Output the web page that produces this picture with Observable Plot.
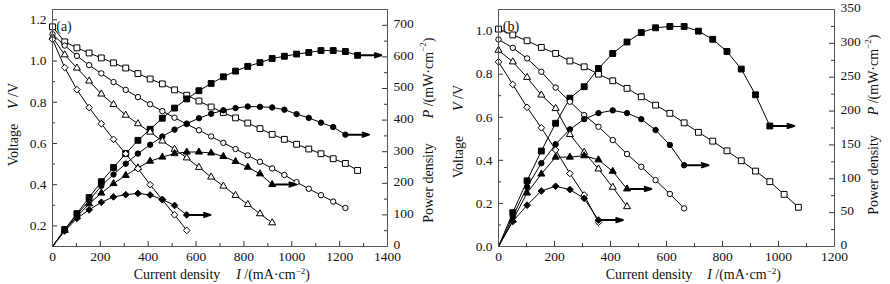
<!DOCTYPE html>
<html><head><meta charset="utf-8">
<script src="https://cdn.jsdelivr.net/npm/d3@7"></script>
<script src="https://cdn.jsdelivr.net/npm/@observablehq/plot@0.6"></script>
<style>
html,body{margin:0;padding:0;background:#fff;}
#wrap{display:flex;width:890px;height:284px;overflow:hidden;}
</style></head><body><div id="wrap"></div>
<script>
// ---------- Panel (a) data ----------
const currentA = [0,51,102,153,204,255,306,357,408,459,510,561,612,663,714,765,816,867,918,969,1020,1071,1122,1173,1224,1275];
const voltA_sq = [1.166,1.093,1.064,1.039,1.015,0.991,0.966,0.939,0.913,0.889,0.860,0.834,0.806,0.777,0.750,0.724,0.699,0.672,0.644,0.620,0.596,0.573,0.550,0.526,0.503,0.469];
const powerA_sq = [0,54,104,155,205,250,294,336,371,406,438,467,493,516,537,555,570,582,595,602,609,614,620,620,617,605];
const voltA_ci = [1.13,1.075,1.025,0.98,0.94,0.898,0.86,0.825,0.79,0.757,0.725,0.694,0.664,0.634,0.603,0.573,0.542,0.511,0.479,0.447,0.412,0.38,0.349,0.318,0.287];
const powerA_ci = [0,53,101,145,192,228,262,294,322,348,370,389,406,420,431,438,443,442,440,433,419,407,392,378,354];
const voltA_tr = [1.115,1.03,0.966,0.903,0.84,0.789,0.737,0.696,0.655,0.612,0.572,0.530,0.484,0.437,0.393,0.348,0.304,0.259,0.215];
const powerA_tr = [0,51,95,135,169,199,225,249,270,283,294,299,299,296,285,269,251,230,196];
const voltA_di = [1.105,0.968,0.861,0.774,0.696,0.620,0.550,0.478,0.400,0.327,0.254,0.178];
const powerA_di = [0,49,89,116,140,157,164,168,163,149,130,100];
const ticksA_V = [0.2,0.4,0.6,0.8,1.0,1.2];
const minorA_V = [0.3,0.5,0.7,0.9,1.1];
const ticksA_P = [0,100,200,300,400,500,600,700];
const minorA_P = [50,150,250,350,450,550,650];
const ticksA_X = [0,200,400,600,800,1000,1200,1400];
const minorA_X = [100,300,500,700,900,1100,1300];

// ---------- Panel (b) data ----------
const currentB = [0,51,102,153,204,255,306,357,408,459,510,561,612,663,714,765,816,867,918,969,1020,1071];
const voltB_sq = [1.009,0.982,0.955,0.924,0.896,0.861,0.834,0.800,0.769,0.734,0.695,0.656,0.618,0.574,0.530,0.489,0.444,0.398,0.350,0.301,0.242,0.182];
const powerB_sq = [0,50,97,141,182,219,236,263,285,302,316,323,325,325,318,306,288,262,224,178];
const voltB_ci = [0.961,0.922,0.873,0.811,0.738,0.672,0.610,0.556,0.494,0.429,0.370,0.308,0.244,0.177];
const powerB_ci = [0,44,88,123,151,173,188,197,201,197,188,172,150,120];
const voltB_tr = [0.911,0.857,0.785,0.703,0.641,0.52,0.437,0.36,0.275,0.185];
const powerB_tr = [0,39,79,107,132,132,134,128,111,85];
const voltB_di = [0.857,0.752,0.646,0.551,0.448,0.339,0.239,0.112];
const powerB_di = [0,37,61,82,89,84,71,39];
const ticksB_V = [0.0,0.2,0.4,0.6,0.8,1.0];
const minorB_V = [0.1,0.3,0.5,0.7,0.9];
const ticksB_P = [0,50,100,150,200,250,300,350];
const minorB_P = [25,75,125,175,225,275,325];
const ticksB_X = [0,200,400,600,800,1000,1200];
const minorB_X = [100,300,500,700,900,1100];

const FONT = '"Liberation Serif","Times New Roman",serif';

function makePanel(cfg) {
  const W = 445, H = 284;
  const {mL, mR, mT, mB, xDomain, vDomain, pDomain} = cfg;
  const pw = W - mL - mR, ph = H - mT - mB;
  const toY = p => vDomain[0] + p / pDomain[1] * (vDomain[1] - vDomain[0]);
  const fromY = v => (v - vDomain[0]) / (vDomain[1] - vDomain[0]) * pDomain[1];
  const marks = [];
  const big = 5, small = 3, tc = "#333";
  // ticks (inward)
  marks.push(Plot.tickY(cfg.vTicks, {y: d => d, insetRight: pw - big, stroke: tc}));
  marks.push(Plot.tickY(cfg.vMinor, {y: d => d, insetRight: pw - small, stroke: tc}));
  marks.push(Plot.tickY(cfg.pTicks.map(toY), {y: d => d, insetLeft: pw - big, stroke: tc}));
  marks.push(Plot.tickY(cfg.pMinor.map(toY), {y: d => d, insetLeft: pw - small, stroke: tc}));
  marks.push(Plot.tickX(cfg.xTicks, {x: d => d, insetTop: ph - big, stroke: tc}));
  marks.push(Plot.tickX(cfg.xMinor, {x: d => d, insetTop: ph - small, stroke: tc}));
  // axes labels
  marks.push(Plot.axisY(cfg.vTicks, {anchor: "left", tickSize: 0, tickPadding: 6, tickFormat: d3.format(".1f"), label: null, fontSize: 13.5, fill: "#111"}));
  marks.push(Plot.axisY(cfg.pTicks.map(toY), {anchor: "right", tickSize: 0, tickPadding: 6, dy: -1.5, tickFormat: v => String(Math.round(fromY(v))), label: null, fontSize: 13.5, fill: "#111"}));
  marks.push(Plot.axisX(cfg.xTicks, {anchor: "bottom", tickSize: 0, tickPadding: 5, tickFormat: d => String(d), label: null, fontSize: 13.5, fill: "#111"}));
  // lines
  const arrows = [];
  for (const s of cfg.series) {
    const vData = s.v.map((v, i) => ({x: cfg.current[i], y: v}));
    const pData = s.p.map((p, i) => ({x: cfg.current[i], y: toY(p)}));
    s.vData = vData; s.pData = pData;
    marks.push(Plot.line(vData, {x: "x", y: "y", stroke: "black", strokeWidth: 1}));
    marks.push(Plot.line(pData, {x: "x", y: "y", stroke: "black", strokeWidth: 1}));
    const last = pData[pData.length - 1];
    arrows.push({x1: last.x + cfg.arrowGap, x2: last.x + cfg.arrowGap + cfg.arrowLen, y: last.y});
  }
  for (const s of cfg.series) {
    marks.push(Plot.dot(s.vData, {x: "x", y: "y", symbol: s.symbol, r: s.r, fill: "white", stroke: "black", strokeWidth: 1}));
    marks.push(Plot.dot(s.pData.slice(1), {x: "x", y: "y", symbol: s.symbol, r: s.r, fill: "black", stroke: "black", strokeWidth: 1}));
  }
  marks.push(Plot.arrow(arrows, {x1: "x1", x2: "x2", y1: "y", y2: "y", stroke: "black", strokeWidth: 2, headLength: 7, headAngle: 35}));
  marks.push(Plot.frame({stroke: "#555", strokeWidth: 1}));

  const svg = Plot.plot({
    width: W, height: H,
    marginLeft: mL, marginRight: mR, marginTop: mT, marginBottom: mB,
    x: {domain: xDomain, axis: null},
    y: {domain: vDomain, axis: null},
    style: {fontFamily: FONT, fontSize: "13.5px", background: "white", color: "#111", overflow: "visible"},
    marks
  });
  addLabels(svg, cfg.labels);
  return svg;
}

function addLabels(svg, L) {
  const g = d3.select(svg).append("g").attr("font-family", FONT).attr("font-size", 14).attr("fill", "#111");
  // left title
  g.append("text").attr("transform", `translate(${L.leftX},${L.volY}) rotate(-90)`)
    .attr("text-anchor", "middle").attr("dominant-baseline", "central").text("Voltage");
  const vt = g.append("text").attr("transform", `translate(${L.leftX},${L.vY}) rotate(-90)`)
    .attr("text-anchor", "middle").attr("dominant-baseline", "central");
  vt.append("tspan").attr("font-style", "italic").text("V");
  vt.append("tspan").text(" /V");
  // right title
  g.append("text").attr("transform", `translate(${L.rightX},${L.pdY}) rotate(-90)`)
    .attr("text-anchor", "middle").attr("dominant-baseline", "central").text("Power density");
  const pt = g.append("text").attr("transform", `translate(${L.rightX},${L.pY}) rotate(-90)`)
    .attr("text-anchor", "middle").attr("dominant-baseline", "central");
  pt.append("tspan").attr("font-style", "italic").text("P");
  pt.append("tspan").text(" /(mW·cm");
  pt.append("tspan").attr("dy", -5).attr("font-size", 9).text("−2");
  pt.append("tspan").attr("dy", 5).text(")");
  // bottom title
  g.append("text").attr("x", L.cdX).attr("y", L.botY).attr("text-anchor", "middle").text("Current density");
  const it = g.append("text").attr("x", L.iX).attr("y", L.botY).attr("text-anchor", "middle");
  it.append("tspan").attr("font-style", "italic").text("I");
  it.append("tspan").text(" /(mA·cm");
  it.append("tspan").attr("dy", -5).attr("font-size", 9).text("−2");
  it.append("tspan").attr("dy", 5).text(")");
  // panel tag
  g.append("text").attr("x", L.tagX).attr("y", L.tagY).text(L.tag);
}

const panelA = makePanel({
  mL: 52, mR: 58, mT: 9, mB: 38,
  xDomain: [0, 1400], vDomain: [0.1, 1.25], pDomain: [0, 750],
  current: currentA,
  vTicks: ticksA_V, vMinor: minorA_V, pTicks: ticksA_P, pMinor: minorA_P, xTicks: ticksA_X, xMinor: minorA_X,
  arrowGap: 14, arrowLen: 85,
  series: [
    {v: voltA_sq, p: powerA_sq, symbol: "square", r: 3.3},
    {v: voltA_ci, p: powerA_ci, symbol: "circle", r: 2.7},
    {v: voltA_tr, p: powerA_tr, symbol: "triangle", r: 2.6},
    {v: voltA_di, p: powerA_di, symbol: "diamond2", r: 3.0}
  ],
  labels: {leftX: 13, volY: 145, vY: 96, rightX: 428, pdY: 183, pY: 78, cdX: 177, iX: 273, botY: 279, tag: "(a)", tagX: 64, tagY: 31}
});
const panelB = makePanel({
  mL: 53, mR: 56, mT: 9, mB: 38,
  xDomain: [0, 1200], vDomain: [0, 1.1], pDomain: [0, 350],
  current: currentB,
  vTicks: ticksB_V, vMinor: minorB_V, pTicks: ticksB_P, pMinor: minorB_P, xTicks: ticksB_X, xMinor: minorB_X,
  arrowGap: 12, arrowLen: 75,
  series: [
    {v: voltB_sq, p: powerB_sq, symbol: "square", r: 3.3},
    {v: voltB_ci, p: powerB_ci, symbol: "circle", r: 2.7},
    {v: voltB_tr, p: powerB_tr, symbol: "triangle", r: 2.6},
    {v: voltB_di, p: powerB_di, symbol: "diamond2", r: 3.0}
  ],
  labels: {leftX: 13, volY: 157, vY: 98, rightX: 428, pdY: 175, pY: 75, cdX: 204, iX: 299, botY: 279, tag: "(b)", tagX: 66, tagY: 31}
});
document.getElementById("wrap").append(panelA, panelB);
</script>
</body></html>
